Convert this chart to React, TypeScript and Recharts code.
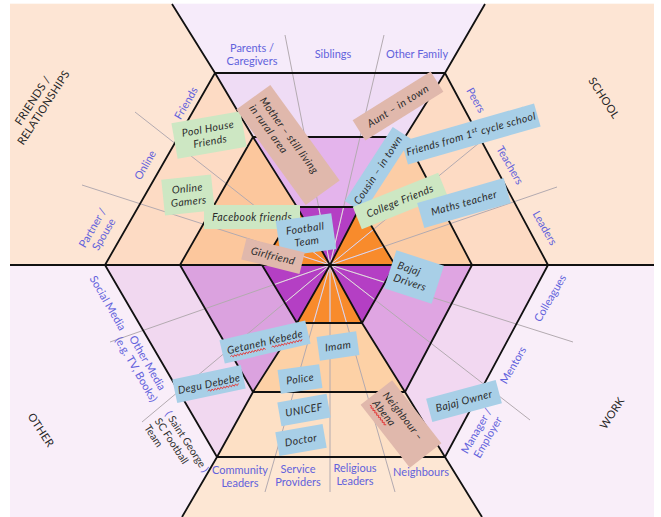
import React from 'react';
import { ComposedChart, Area, Line, Scatter, XAxis, YAxis } from 'recharts';

const CHART_W = 661;
const CHART_H = 517;

// ---- diagram geometry (data units: x to the right, y downward) ----
const CENTER: number[] = [330, 265];
// vertex order: left, upper-left, upper-right, right, lower-right, lower-left
const INNER_HEX: number[][] = [[262, 265], [297, 207], [360, 207], [395, 265], [362, 323], [297, 323]];
const MIDDLE_HEX: number[][] = [[180, 265], [253, 137], [405, 137], [472, 265], [405, 392], [253, 392]];
const OUTER_HEX: number[][] = [[105, 265], [215, 73], [445, 73], [548, 265], [445, 457], [217, 457]];
const FRAME_EDGE: number[][] = [[10, 265], [172, 4], [485, 4], [654, 265], [482, 517], [182, 517]];
const FRAME_CORNERS: number[][][] = [[[10, 4]], [], [[654, 4]], [[654, 517]], [], [[10, 517]]];

// sectors: 0 friends, 1 family, 2 school, 3 work, 4 community, 5 other
const INNER_FILL = ['#f88b2c', '#b43fc4', '#f88b2c', '#b43fc4', '#f88b2c', '#b43fc4'];
const MIDDLE_FILL = ['#fcc79d', '#e4b4ec', '#fccda6', '#dfa5e2', '#fdd1a6', '#dba2df'];
const OUTER_FILL = ['#fddbc4', '#efdcf5', '#fddbc4', '#f2d8f1', '#fde0c5', '#f1d8f0'];
const FIELD_FILL = ['#fde5d4', '#f6ebfa', '#fde5d4', '#f9eef9', '#fde7d4', '#f9eef9'];

// gray dividers between sub-groups, from the centre outward
const SPOKE_ENDS: number[][] = [
  [285, 35], [384, 35],
  [135, 112], [82, 185],
  [523, 107], [557, 187],
  [573, 342], [530, 420],
  [265, 492], [330, 492], [395, 492],
  [110, 342], [142, 422],
];

// ---- texts ----
const CATEGORY_TEXT: string[][] = [['FRIENDS /', 'RELATIONSHIPS'], ['SCHOOL'], ['WORK'], ['OTHER']];
const CATEGORY_AT: number[][] = [[38, 104, -57], [604, 98, 57], [612, 413, -57], [41, 430, 57]];

const GROUP_TEXT: string[][] = [
  ['Parents /', 'Caregivers'], ['Siblings'], ['Other Family'],
  ['Friends'], ['Online'], ['Partner /', 'Spouse'],
  ['Peers'], ['Teachers'], ['Leaders'],
  ['Colleagues'], ['Mentors'], ['Manager /', 'Employer'],
  ['Community', 'Leaders'], ['Service', 'Providers'], ['Religious', 'Leaders'], ['Neighbours'],
  ['Social Media'], ['Other Media', '(e.g. TV, Books)'],
];
const GROUP_AT: number[][] = [
  [252, 55, 0], [333, 54, 0], [417, 54, 0],
  [186, 103, -60], [145, 165, -60], [98, 231, -60],
  [476, 100, 60], [510, 165, 60], [545, 228, 60],
  [550, 298, -60], [513, 365, -60], [482, 434, -60],
  [240, 477, 0], [298, 476, 0], [355, 475, 0], [421, 472, 0],
  [108, 303, 60], [142, 366, 60],
];

const TEAM_TEXT: string[] = ['Saint George', 'SC Football', 'Team'];
const TEAM_AT: number[] = [168, 412, 57];

const PEOPLE_TEXT: string[][] = [
  ['Pool House', 'Friends'],
  ['Mother \u2013 still living', 'in rural area'],
  ['Aunt \u2013 in town'],
  ['Cousin \u2013 in town'],
  ['Friends from 1{st} cycle school'],
  ['College Friends'],
  ['Maths teacher'],
  ['Online', 'Gamers'],
  ['Facebook friends'],
  ['Football', 'Team'],
  ['Girlfriend'],
  ['Bajaj', 'Drivers'],
  ['Getaneh Kebede'],
  ['Degu Debebe'],
  ['Imam'],
  ['Police'],
  ['UNICEF'],
  ['Doctor'],
  ['Neighbour \u2013', 'Abena'],
  ['Bajaj Owner'],
];
const PEOPLE_KIND: string[] = ['g', 'p', 'p', 'b', 'b', 'g', 'b', 'g', 'g', 'b', 'p', 'b', 'b', 'b', 'b', 'b', 'b', 'b', 'p', 'b'];
const PEOPLE_AT: number[][] = [
  [209, 135, -10], [288, 145, 54], [398, 106, -32], [378, 170, -57], [471, 134, -16],
  [400, 201, -22], [464, 203, -16], [188, 195, -6], [252, 217, 0], [306, 235, -8],
  [273, 256, 14], [414, 277, 18], [265, 342, -13], [209, 384, -12], [338, 346, -8],
  [300, 379, -8], [304, 410, -10], [301, 440, -10], [401, 424, 52], [464, 401, -15],
];
const PEOPLE_SIZE: number[][] = [
  [70, 36], [118, 42], [92, 24], [88, 22], [138, 24],
  [92, 24], [90, 26], [50, 36], [96, 24], [56, 36],
  [60, 22], [50, 40], [88, 24], [70, 24], [40, 24],
  [42, 24], [50, 24], [48, 24], [80, 40], [72, 24],
];
const PEOPLE_ALIGN: string[] = ['middle', 'start', 'middle', 'middle', 'middle', 'middle', 'middle', 'middle', 'middle', 'middle',
  'middle', 'start', 'middle', 'middle', 'middle', 'middle', 'middle', 'middle', 'start', 'middle'];
// red spell-check squiggles: [person, line, firstChar, lastChar]
const SQUIGGLES: number[][] = [[12, 0, 0, 7], [12, 0, 8, 14], [13, 0, 5, 11], [18, 1, 0, 5]];

const NOTE_FILL: Record<string, string> = { g: '#cde7c3', p: '#e0b8ac', b: '#a8cfe7' };
const FONT_UI = 'Lato, "Open Sans", sans-serif';
const FONT_HAND = 'Lato, "Noto Sans", sans-serif';
const BLUE_TEXT = '#6262dc';

// ---- helpers building series data from the geometry ----
function polyToRange(pts: number[][]) {
  const xs = Array.from(new Set(pts.map((p) => p[0]))).sort((a, b) => a - b);
  return xs.map((x) => {
    let lo = Infinity;
    let hi = -Infinity;
    for (let i = 0; i < pts.length; i++) {
      const [x1, y1] = pts[i];
      const [x2, y2] = pts[(i + 1) % pts.length];
      if (x1 === x2) {
        if (x === x1) {
          lo = Math.min(lo, y1, y2);
          hi = Math.max(hi, y1, y2);
        }
        continue;
      }
      const t = (x - x1) / (x2 - x1);
      if (t >= -1e-9 && t <= 1 + 1e-9) {
        const y = y1 + t * (y2 - y1);
        lo = Math.min(lo, y);
        hi = Math.max(hi, y);
      }
    }
    return { x, r: [lo, hi] };
  });
}

const nxt = (k: number) => (k + 1) % 6;
const SECTORS: { fill: string; data: any[] }[] = [];
for (let k = 0; k < 6; k++) {
  SECTORS.push({
    fill: FIELD_FILL[k],
    data: polyToRange([OUTER_HEX[k], FRAME_EDGE[k], ...FRAME_CORNERS[k], FRAME_EDGE[nxt(k)], OUTER_HEX[nxt(k)]]),
  });
  SECTORS.push({ fill: OUTER_FILL[k], data: polyToRange([MIDDLE_HEX[k], OUTER_HEX[k], OUTER_HEX[nxt(k)], MIDDLE_HEX[nxt(k)]]) });
  SECTORS.push({ fill: MIDDLE_FILL[k], data: polyToRange([INNER_HEX[k], MIDDLE_HEX[k], MIDDLE_HEX[nxt(k)], INNER_HEX[nxt(k)]]) });
  SECTORS.push({ fill: INNER_FILL[k], data: polyToRange([CENTER, INNER_HEX[k], INNER_HEX[nxt(k)]]) });
}

function segmentsToPath(segs: number[][][]) {
  const out: any[] = [];
  segs.forEach(([a, b], i) => {
    out.push({ x: a[0], y: a[1] });
    out.push({ x: b[0], y: b[1] });
    out.push({ x: b[0], y: null, gap: i });
  });
  return out;
}

// where a spoke leaves the inner hexagon
function exitInner(end: number[]) {
  const dx = end[0] - CENTER[0];
  const dy = end[1] - CENTER[1];
  let best = 1;
  for (let k = 0; k < 6; k++) {
    const p = INNER_HEX[k];
    const q = INNER_HEX[nxt(k)];
    const ex = q[0] - p[0];
    const ey = q[1] - p[1];
    const den = dx * ey - dy * ex;
    if (Math.abs(den) < 1e-9) continue;
    const t = ((p[0] - CENTER[0]) * ey - (p[1] - CENTER[1]) * ex) / den;
    const s = ((p[0] - CENTER[0]) * dy - (p[1] - CENTER[1]) * dx) / den;
    if (t > 0 && s >= 0 && s <= 1 && t < best) best = t;
  }
  return [CENTER[0] + dx * best, CENTER[1] + dy * best];
}

const blackSegs: number[][][] = [];
for (let k = 0; k < 6; k++) {
  blackSegs.push([INNER_HEX[k], INNER_HEX[nxt(k)]]);
  blackSegs.push([MIDDLE_HEX[k], MIDDLE_HEX[nxt(k)]]);
  blackSegs.push([OUTER_HEX[k], OUTER_HEX[nxt(k)]]);
  blackSegs.push([CENTER, INNER_HEX[k]]);
  blackSegs.push([INNER_HEX[k], MIDDLE_HEX[k]]);
  blackSegs.push([MIDDLE_HEX[k], OUTER_HEX[k]]);
  blackSegs.push([OUTER_HEX[k], FRAME_EDGE[k]]);
}
const BLACK_LINES = segmentsToPath(blackSegs);
const GRAY_LINES = segmentsToPath(SPOKE_ENDS.map((e) => [CENTER, e]));
const LIGHT_LINES = segmentsToPath(SPOKE_ENDS.map((e) => [CENTER, exitInner(e)]));

const CATEGORY_POINTS = CATEGORY_AT.map((a, i) => ({ x: a[0], y: a[1], i }));
const GROUP_POINTS = GROUP_AT.map((a, i) => ({ x: a[0], y: a[1], i }));
const TEAM_POINTS = [{ x: TEAM_AT[0], y: TEAM_AT[1], i: 0 }];
const PEOPLE_POINTS = PEOPLE_AT.map((a, i) => ({ x: a[0], y: a[1], i }));

// ---- shapes ----
function renderRich(line: string) {
  const parts = line.split(/\{|\}/);
  return parts.map((p, j) =>
    j % 2 === 1 ? (
      <tspan key={j} fontSize={7} dy={-4}>{p}</tspan>
    ) : (
      <tspan key={j} dy={j === 0 ? 0 : 4}>{p}</tspan>
    )
  );
}

function StackedText(props: any) {
  const { cx, cy, lines, angle, color, size, weight, spacing } = props;
  const n = lines.length;
  const lh = size + 2;
  return (
    <g transform={`rotate(${angle} ${cx} ${cy})`}>
      <text textAnchor="middle" fontFamily={FONT_UI} fontSize={size} fill={color} fontWeight={weight} letterSpacing={spacing}>
        {lines.map((l: string, j: number) => (
          <tspan key={j} x={cx} y={cy + (j - (n - 1) / 2) * lh + size * 0.36}>{l}</tspan>
        ))}
      </text>
    </g>
  );
}

function CategoryShape(props: any) {
  const { cx, cy, payload } = props;
  if (cx == null) return <g />;
  const i = payload.i;
  return <StackedText cx={cx} cy={cy} lines={CATEGORY_TEXT[i]} angle={CATEGORY_AT[i][2]} color="#262626" size={11} weight={400} spacing={0.3} />;
}

function GroupShape(props: any) {
  const { cx, cy, payload } = props;
  if (cx == null) return <g />;
  const i = payload.i;
  return <StackedText cx={cx} cy={cy} lines={GROUP_TEXT[i]} angle={GROUP_AT[i][2]} color={BLUE_TEXT} size={11} weight={400} spacing={0} />;
}

function TeamShape(props: any) {
  const { cx, cy } = props;
  if (cx == null) return <g />;
  return (
    <g transform={`rotate(${TEAM_AT[2]} ${cx} ${cy})`}>
      <text fontFamily={FONT_UI} fontSize={10.5} fill="#333">
        {TEAM_TEXT.map((l, j) => (
          <tspan key={j} x={cx} y={cy + j * 12.5 + 3.8}>
            {j === 0 ? <tspan fill={BLUE_TEXT}>( </tspan> : null}
            {l}
            {j === 0 ? <tspan fill={BLUE_TEXT}> )</tspan> : null}
          </tspan>
        ))}
      </text>
    </g>
  );
}

const HAND_SIZE = 10.5;
const CHAR_W = 5.3;

function PersonShape(props: any) {
  const { cx, cy, payload } = props;
  if (cx == null) return <g />;
  const i = payload.i;
  const lines = PEOPLE_TEXT[i];
  const ang = PEOPLE_AT[i][2];
  const [w, h] = PEOPLE_SIZE[i];
  const align = PEOPLE_ALIGN[i];
  const n = lines.length;
  const lh = 13;
  const tx = align === 'start' ? cx - w / 2 + 6 : cx;
  const squigs = SQUIGGLES.filter((s) => s[0] === i).map((s, k) => {
    const ln = lines[s[1]];
    const lineW = ln.length * CHAR_W;
    const x0 = (align === 'start' ? tx : cx - lineW / 2) + s[2] * CHAR_W;
    const x1 = (align === 'start' ? tx : cx - lineW / 2) + s[3] * CHAR_W;
    const yb = cy + (s[1] - (n - 1) / 2) * lh + 6.5;
    let d = `M${x0},${yb}`;
    let up = true;
    for (let x = x0 + 1.5; x <= x1; x += 1.5) {
      d += ` L${x},${yb + (up ? -0.9 : 0.9)}`;
      up = !up;
    }
    return <path key={k} d={d} stroke="#e23a3a" strokeWidth={0.9} fill="none" />;
  });
  return (
    <g transform={`rotate(${ang} ${cx} ${cy})`}>
      <rect x={cx - w / 2} y={cy - h / 2} width={w} height={h} fill={NOTE_FILL[PEOPLE_KIND[i]]} />
      {lines.map((ln, j) => (
        <text
          key={j}
          x={tx}
          y={cy + (j - (n - 1) / 2) * lh + 3.6}
          textAnchor={align}
          fontFamily={FONT_HAND}
          fontStyle="italic"
          fontSize={HAND_SIZE}
          letterSpacing={0.4}
          fill="#2b2b2b"
        >
          {renderRich(ln)}
        </text>
      ))}
      {squigs}
    </g>
  );
}

export default function App() {
  return (
    <div style={{ position: 'absolute', left: 0, top: 0, width: CHART_W, height: CHART_H, background: '#ffffff' }}>
      <ComposedChart width={CHART_W} height={CHART_H} margin={{ top: 0, right: 0, bottom: 0, left: 0 }}>
        <XAxis type="number" dataKey="x" domain={[0, CHART_W]} hide allowDataOverflow />
        <YAxis type="number" dataKey="y" domain={[0, CHART_H]} reversed hide allowDataOverflow />
        {SECTORS.map((s, k) => (
          <Area
            key={`sector-${k}`}
            data={s.data}
            dataKey="r"
            type="linear"
            fill={s.fill}
            fillOpacity={1}
            stroke={s.fill}
            strokeWidth={0.6}
            dot={false}
            activeDot={false}
            isAnimationActive={false}
            legendType="none"
          />
        ))}
        <Line data={GRAY_LINES} dataKey="y" type="linear" stroke="#b3aab0" strokeWidth={1} dot={false} activeDot={false} isAnimationActive={false} connectNulls={false} legendType="none" />
        <Line data={LIGHT_LINES} dataKey="y" type="linear" stroke="#f0dcef" strokeOpacity={0.85} strokeWidth={1} dot={false} activeDot={false} isAnimationActive={false} connectNulls={false} legendType="none" />
        <Line data={BLACK_LINES} dataKey="y" type="linear" stroke="#111111" strokeWidth={1.8} dot={false} activeDot={false} isAnimationActive={false} connectNulls={false} legendType="none" />
        <Scatter data={CATEGORY_POINTS} shape={(p: any) => <CategoryShape {...p} />} isAnimationActive={false} legendType="none" />
        <Scatter data={GROUP_POINTS} shape={(p: any) => <GroupShape {...p} />} isAnimationActive={false} legendType="none" />
        <Scatter data={TEAM_POINTS} shape={(p: any) => <TeamShape {...p} />} isAnimationActive={false} legendType="none" />
        <Scatter data={PEOPLE_POINTS} shape={(p: any) => <PersonShape {...p} />} isAnimationActive={false} legendType="none" />
      </ComposedChart>
    </div>
  );
}
